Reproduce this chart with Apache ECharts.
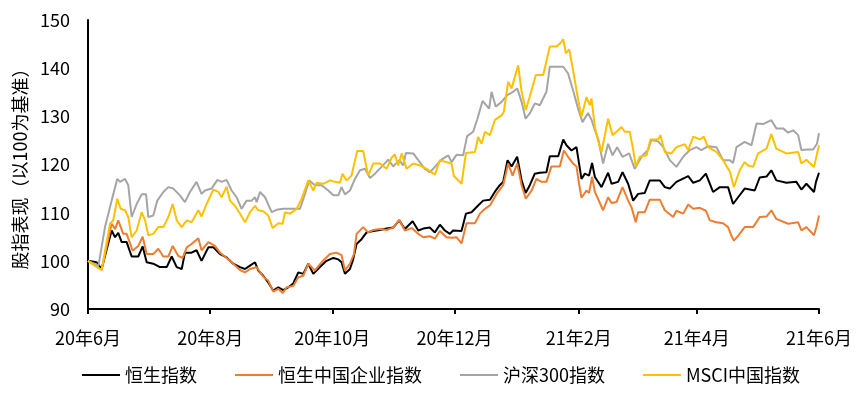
<!DOCTYPE html>
<html>
<head>
<meta charset="utf-8">
<script src="https://cdn.jsdelivr.net/npm/echarts@6/dist/echarts.min.js"></script>
<style>
html,body{margin:0;padding:0;background:#fff;}
#c{width:860px;height:393px;}
</style>
</head>
<body>
<div id="c"></div>
<script>
// x = days since 2020-06-01
const tickDays = [0, 61, 122, 183, 245, 304, 365];
const tickLabels = ['20年6月', '20年8月', '20年10月', '20年12月', '21年2月', '21年4月', '21年6月'];
const seriesNames = ['恒生指数', '恒生中国企业指数', '沪深300指数', 'MSCI中国指数'];

const hsi = [[0,100],[4.3,99.7],[6.8,98.3],[11.8,106.3],[13.5,104.9],[15.1,105.8],[16.8,103.9],[19.3,103.9],[21.8,100.9],[25.1,100.9],[27.3,103],[29.3,99.7],[32.6,99.4],[35.9,98.7],[39.3,98.7],[41.8,100.9],[44.3,98.7],[46.8,98.3],[48.4,101.7],[51.7,101.7],[54.2,102.2],[56.7,100],[60.1,102.8],[62.6,102.8],[65.9,101.4],[69.2,100.7],[72.5,99.4],[75.9,98.7],[78.4,98.3],[80.9,99],[83.4,99.7],[85.0,98],[87.5,96.9],[90.0,95.5],[92.5,93.8],[95.0,94.5],[97.5,93.9],[100.0,94.5],[102.5,95.3],[105.0,97.6],[107.5,97.3],[110.0,99.4],[112.5,97.3],[115.8,98.7],[119.1,100],[122.5,100.6],[125.0,100.3],[126.6,99.7],[128.3,97.3],[130.8,98.3],[132.4,100.3],[134.1,103.5],[136.6,104.5],[139.1,105.9],[142.4,106.2],[145.8,106.4],[149.1,106.7],[152.4,106.9],[155.4,108.4],[158.2,106.6],[162.1,108.2],[164.9,106.3],[167.4,106.7],[170.7,106.9],
[173.2,105.9],[175.7,107.5],[178.2,106.3],[180.7,105.6],[182.3,106.3],[186.5,106.2],[188.7,109.8],[191.5,110.1],[194.8,111.5],[197.3,112.5],[200.7,112.7],[203.1,114.3],[205.6,115.7],[207.3,116.4],[209.5,120.9],[211.5,119.6],[214.3,121.6],[216.5,116.7],[218.5,114.1],[220.6,115.7],[223.1,118.1],[225.6,118.3],[228.9,118.4],[230.6,121.7],[234.8,121.7],[237.3,125.2],[238.9,124],[241.4,122.9],[243.9,123.6],[245.2,120.2],[246.4,117],[248.1,118.1],[250.2,117.7],[251.7,120.3],[253.1,117.4],[256.4,115.3],[259.7,118.3],[261.4,116],[264.7,116.4],[266.9,118.4],[269.7,116],[272.2,112.5],[274.7,113.9],[278.0,114.1],[280.5,116.7],[285.5,116.7],[288.0,115.3],[290.5,115],[293.8,116.4],[299.7,117.6],[302.2,116.2],[305.5,116.7],[308.5,118.1],[312.1,114.3],[315.5,115.3],[319.6,115.3],[322.1,111.8],[324.6,113.2],[327.9,115],[332.9,114.6],[335.4,117.3],[338.8,117.5],[341.2,118.8],[343.7,116.7],[348.7,116.2],[353.7,116.4],[356.2,114.8],[358.7,116],[362.5,114.3],[363.5,116.4],[365,118.3]];

const hsce = [[0,100],[6.8,98.1],[11.8,107.7],[13.5,106.6],[15.1,108.4],[17.6,105.6],[19.3,105.6],[22.3,102.1],[25.1,103.1],[27.3,105],[29.3,101.4],[32.6,101.4],[35.1,102.5],[37.6,100.9],[40.1,100.9],[42.3,103.1],[45.1,101],[47.3,100.6],[49.3,102.8],[51.7,103.5],[55.1,104.7],[56.7,102.2],[60.1,103.9],[63.4,103.1],[65.9,101.7],[69.2,100.6],[72.5,99.4],[75.9,98.1],[78.4,97.6],[80.9,98.3],[84.2,98.7],[87.5,96.7],[90.0,95.9],[92.5,93.6],[95.0,94.2],[97.2,93.3],[99.2,94.5],[102.5,94.8],[105.0,96.6],[107.5,96.9],[110.0,99.4],[113.3,98],[116.6,99.7],[120.8,101.4],[124.1,101.7],[126.6,101.2],[128.3,98],[130.8,99.4],[132.8,101.4],[134.1,105.6],[137.4,107],[139.9,105.9],[142.4,106.4],[145.8,106.6],[149.1,106.4],[152.4,106.9],[155.4,108.5],[158.2,106.3],[161.6,106.8],[164.9,105.6],[167.4,104.9],[170.7,105.1],
[173.2,104.6],[175.7,106.2],[179.0,104.9],[181.5,104.8],[184.0,104.9],[186.5,103.6],[189.0,107.8],[193.2,107.8],[195.7,109.8],[198.2,110.8],[200.7,111.5],[204.0,113.9],[207.3,115.7],[209.8,120.2],[212.0,117.7],[214.3,120.2],[216.5,115.7],[218.6,112.9],[221.5,114.6],[223.9,117],[226.4,116.4],[228.9,116.4],[231.4,119.6],[235.6,119.6],[237.6,122.9],[239.7,121.6],[242.2,120.2],[243.9,119.6],[245.2,116],[246.4,113.1],[248.9,114.6],[250.2,114.1],[251.7,117.4],[253.1,114.3],[257.2,110.5],[259.7,113.2],[261.4,112],[263.9,112.2],[266.9,115.3],[269.7,112.5],[271.4,111.1],[273.5,108],[274.7,110.1],[278.0,110.1],[280.5,112.7],[285.5,112.7],[288.0,110.5],[292.2,109.1],[293.8,110.4],[297.2,109.8],[299.7,111.7],[302.2,110.8],[305.5,111],[308.5,110.4],[310.5,108.4],[313.8,108],[317.1,107.8],[319.6,107],[321.3,105.2],[322.5,104.2],[324.6,105.2],[327.9,107],[332.1,107],[335.4,109.1],[338.8,109.2],[341.2,110.5],[343.7,108.7],[349.6,107.7],[354.6,108],[356.2,106.3],[358.7,107],[362.5,105.3],[363.8,107.2],[365,109.4]];

const csi300 = [[0,100],[5.2,99],[8.5,107],[11.8,112.5],[14.6,117],[16.0,116.4],[18.5,117],[20.1,115.7],[21.8,109.1],[24.3,111.8],[26.8,113.8],[29.0,113.8],[30.1,109.1],[32.6,109.4],[34.6,112.5],[37.6,114.3],[40.1,115.3],[42.6,115],[45.9,113.6],[48.4,112.2],[50.9,114.3],[54.2,116.4],[56.7,113.9],[58.4,114.6],[61.7,115],[64.6,116.8],[66.7,116.4],[69.2,116.8],[71.7,114.6],[74.2,113.2],[76.7,110.8],[79.2,112.5],[81.7,112.5],[83.4,113.2],[84.2,112.2],[85.9,114.3],[88.4,113.2],[91.7,110.1],[94.2,110.6],[97.5,110.8],[102.5,110.8],[105.8,110.8],[107.8,113.2],[110.5,116.7],[113.3,115.7],[116.6,115.7],[120.0,114.6],[122.5,113.6],[125.0,113.6],[126.6,115.3],[128.3,113.8],[130.8,114.6],[133.3,117],[135.8,118.8],[138.3,119.1],[140.8,117.2],[143.3,118.1],[146.6,119.5],[149.9,121],[152.4,119.6],[155.4,120.9],[157.4,119.8],[158.7,122.4],[162.4,122.3],[164.9,120.9],[168.2,119.1],[170.7,118.4],
[173.2,119.5],[176.5,121],[179.9,121.9],[181.5,120.5],[184.0,122],[187.3,121.9],[189.3,125.9],[192.3,126.8],[194.3,129.3],[197.0,133.2],[200.3,131.6],[201.5,135.1],[203.6,132],[206.5,133],[209.3,134.4],[212.3,135.1],[214.3,135.8],[216.5,133],[218.5,129.5],[220.6,130.6],[223.1,132.7],[225.6,132.3],[228.9,135.1],[230.6,140.3],[237.3,140.3],[239.7,138.9],[242.2,135.4],[244.7,131.6],[246.9,128.8],[249.7,130.7],[251.4,129.3],[253.1,127.1],[254.7,125.4],[257.2,120.2],[259.7,124.3],[261.9,121.9],[264.2,123.6],[266.9,121.6],[270.2,122.3],[273.0,119.1],[276.4,121.6],[279.7,123.1],[281.3,125.1],[284.7,124.8],[287.2,123.6],[290.5,120.9],[293.8,119.5],[297.2,121.6],[300.5,123],[303.8,123.6],[306.3,123],[309.6,123.8],[313.8,123.6],[317.1,120.9],[320.5,120.9],[322.1,120.3],[323.8,123.6],[327.9,124.7],[331.3,124],[333.8,128.5],[337.1,128.4],[341.2,129.2],[343.7,127.5],[347.1,127.5],[349.6,126.6],[352.1,127.1],[354.6,126.1],[356.2,123],[359.5,123.1],[362.1,123.1],[364,124.3],[365,126.5]];

const msci = [[0,100],[6.8,98.1],[11.0,107.7],[12.6,108.4],[14.6,112.9],[16.3,110.8],[18.5,110.5],[20.1,109.1],[21.8,104.9],[24.3,106.3],[26.8,110.1],[28.5,108.4],[30.1,105.3],[32.6,105.6],[35.1,107],[37.6,107],[40.1,109.1],[42.3,111.8],[44.3,108.4],[46.8,107],[49.3,108.4],[51.7,108],[55.1,110.5],[56.7,109.2],[59.2,111.8],[62.6,114.8],[65.1,114.3],[66.7,113.2],[69.2,115.4],[70.9,112.5],[73.4,111.4],[75.9,109.8],[78.4,108],[80.9,110.1],[83.4,111.4],[85.0,110.5],[87.5,110.3],[90.0,109.4],[92.2,106.8],[95.0,107.8],[97.2,107.7],[98.3,110.1],[100.8,109.8],[104.2,110.8],[106.7,112.9],[110.0,116.7],[112.5,114.6],[114.1,116.2],[117.5,116],[120.8,116.7],[123.3,116.4],[125.8,116.2],[127.1,118.1],[129.1,116.7],[131.6,117.7],[134.4,122.8],[137.4,122.8],[139.9,117.7],[142.4,120.2],[145.8,120.2],[149.1,119.1],[151.6,121.4],[153.2,122.1],[154.9,119.8],[156.6,122.3],[159.1,119.1],[162.4,120.2],[165.7,119.8],[169.1,119.1],[170.7,118.6],
[173.2,117.9],[175.7,120.9],[179.0,120.5],[181.5,120.2],[182.7,117.6],[186.5,116],[188.7,122.4],[193.2,122.6],[194.8,125.7],[196.5,124.3],[198.2,126.8],[200.7,126.1],[203.1,129.2],[206.5,130.2],[207.6,130.9],[209.8,137.2],[211.5,135.8],[214.8,140.6],[216.5,135.1],[218.6,131.3],[221.0,134.7],[223.6,138.6],[227.3,138.6],[230.6,144.5],[233.9,144.5],[235.9,145.2],[237.3,146],[238.6,143.1],[240.3,143.9],[242.2,139.6],[244.2,134.7],[246.4,129.9],[248.9,134],[250.6,132.3],[251.4,133.7],[253.1,127.8],[254.7,125],[256.4,122.6],[259.7,129.5],[261.9,126.1],[263.9,126.8],[266.4,127.8],[268.0,126.8],[270.5,126.8],[272.2,123.1],[273.5,119.6],[275.5,121.6],[278.9,121.9],[280.8,125.2],[284.7,125.2],[285.8,126.1],[288.0,122.6],[291.3,122.3],[293.8,123.6],[298.0,124.2],[299.7,123],[302.2,125.8],[305.5,125.2],[307.5,125.8],[309.6,123.6],[313.8,122.6],[317.1,120.9],[320.5,118.5],[322.5,115.3],[325.4,118.8],[327.9,120.5],[329.6,119.8],[332.1,119.5],[334.6,122.3],[338.8,123.3],[341.2,126.3],[343.7,123.3],[348.7,122.3],[354.6,122.6],[356.2,120.2],[358.7,121],[362.5,119.5],[365,124]];

const FONT = '"Noto Sans CJK SC", "Noto Sans", sans-serif';
const colors = ['#000000', '#ED7D31', '#A5A5A5', '#FFC000'];
const dataSets = [hsi, hsce, csi300, msci];

const chart = echarts.init(document.getElementById('c'), null, {renderer: 'canvas'});
chart.setOption({
  animation: false,
  textStyle: {fontFamily: FONT},
  color: colors,
  grid: {left: 88, right: 41, top: 20, bottom: 84, containLabel: false},
  legend: {
    left: 77, top: 361,
    icon: 'rect',
    itemWidth: 38, itemHeight: 2, itemGap: 38,
    textStyle: {fontSize: 18, color: '#000', fontFamily: FONT},
    data: seriesNames
  },
  xAxis: {
    type: 'value', min: 0, max: 365,
    axisLine: {lineStyle: {color: '#000', width: 2}},
    axisTick: {show: true, length: 5, lineStyle: {color: '#000', width: 2}, customValues: tickDays},
    axisLabel: {
      customValues: tickDays, fontSize: 18, color: '#000', margin: 20, fontFamily: FONT,
      formatter: function (v) { const i = tickDays.indexOf(v); return i >= 0 ? tickLabels[i] : ''; }
    },
    splitLine: {show: false}
  },
  yAxis: {
    type: 'value', min: 90, max: 150, interval: 10,
    name: '股指表现（以100为基准）', nameLocation: 'middle', nameGap: 58,
    nameTextStyle: {fontSize: 18, color: '#000', fontFamily: FONT},
    axisLine: {show: true, lineStyle: {color: '#000', width: 2}},
    axisTick: {show: false},
    axisLabel: {fontSize: 18, color: '#000', margin: 18, fontFamily: FONT},
    splitLine: {show: false}
  },
  series: seriesNames.map(function (n, i) {
    return {
      name: n, type: 'line', data: dataSets[i], showSymbol: false, symbol: 'none',
      lineStyle: {width: 2, color: colors[i]}, itemStyle: {color: colors[i]}
    };
  })
});
</script>
</body>
</html>
